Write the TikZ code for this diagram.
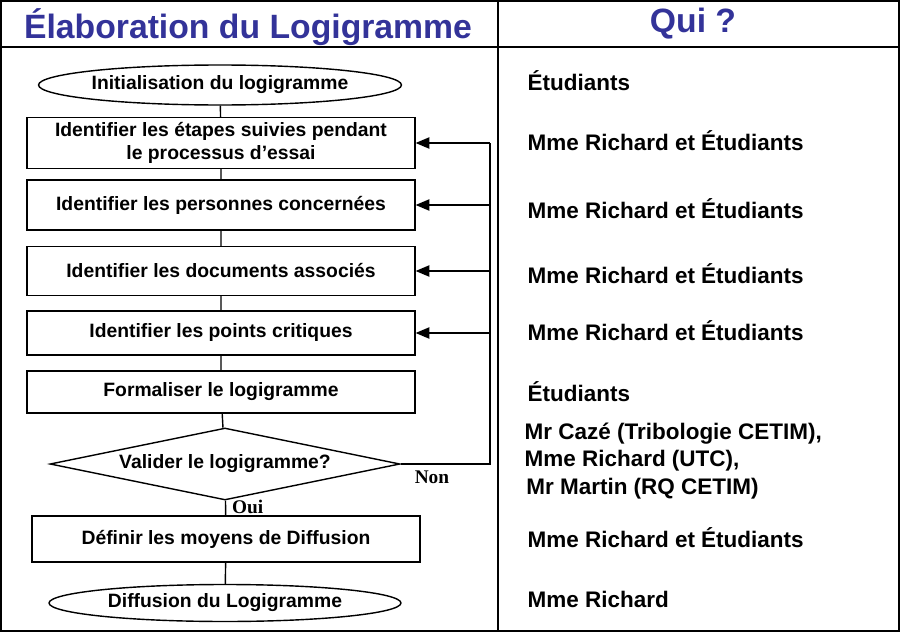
\documentclass[tikz,border=0pt]{standalone}
\usepackage{fontspec}
\setmainfont{Liberation Sans}
\newfontfamily\nonfont{Liberation Serif}
\usetikzlibrary{shapes,calc,positioning,arrows}
\definecolor{titleblue}{RGB}{51,51,153}

\begin{document}
\begin{tikzpicture}[x=0.02cm,y=-0.02cm,>=triangle 45,thick,font=\bfseries\fontsize{11}{13}\selectfont]
    \tikzset{etape/.style={draw,minimum width=7.76cm,inner sep=1pt,align=center},
             debut/.style={draw,ellipse,minimum width=7.04cm,minimum height=0.8cm,inner sep=0pt},
             qui/.style={anchor=west,font=\bfseries\fontsize{12.8}{15}\selectfont,align=left}}
    \useasboundingbox (0,0) rectangle (900,632);
    % cadre
    \draw[line width=1.6pt] (1,1) rectangle (899,631);
    \draw[line width=1.6pt] (1,47) -- (899,47);
    \draw[line width=1.6pt] (498,1) -- (498,631);
    \node[text=titleblue,font=\bfseries\fontsize{19.2}{22}\selectfont] (titre) at (248,27) {Élaboration du Logigramme};
    \node[text=titleblue,font=\bfseries\fontsize{19.2}{22}\selectfont] (qui) at (693,24) {Qui ?};
    %
    \node[debut] (init) at (220,85) {Initialisation du logigramme};
    \node[etape,minimum height=1.02cm] (etapes) at (221,143) {Identifier les étapes suivies pendant\\le processus d’essai};
    \node[etape,minimum height=1cm] (pers) at (221,205) {Identifier les personnes concernées};
    \node[etape,minimum height=0.98cm] (docs) at (221,271) {Identifier les documents associés};
    \node[etape,minimum height=0.88cm] (pts) at (221,333) {Identifier les points critiques};
    \node[etape,minimum height=0.84cm] (form) at (221,392) {Formaliser le logigramme};
    \node[draw,diamond,aspect=4.86,minimum width=7cm,minimum height=1.44cm,inner sep=0pt] (valid) at (225,464) {Valider le logigramme?};
    \node[etape,minimum height=0.92cm] (moyens) at (226,539) {Définir les moyens de Diffusion};
    \node[debut,minimum height=0.74cm] (diff) at (225,603) {Diffusion du Logigramme};
    \coordinate (retour) at (490,464);
    %
    \draw (init) -- (etapes) -- (pers) -- (docs) -- (pts) -- (form) -- (valid);
    \draw (valid) -- node[right,pos=0.4,font=\nonfont\bfseries\fontsize{11}{13}\selectfont]{Oui} (moyens);
    \draw (moyens) -- (diff);
    \draw (valid.east) -- node[below,pos=0.35,font=\nonfont\bfseries\fontsize{11}{13}\selectfont]{Non} (retour) -- (retour |- etapes.east);
    \draw[->] (retour |- etapes.east) -- (etapes.east);
    \draw[->] (retour |- pers.east) -- (pers.east);
    \draw[->] (retour |- docs.east) -- (docs.east);
    \draw[->] (retour |- pts.east) -- (pts.east);
    %
    \node[qui] (q1) at (521,81) {Étudiants};
    \node[qui] (q2) at (521,141) {Mme Richard et Étudiants};
    \node[qui] (q3) at (521,209) {Mme Richard et Étudiants};
    \node[qui] (q4) at (521,274) {Mme Richard et Étudiants};
    \node[qui] (q5) at (521,331) {Mme Richard et Étudiants};
    \node[qui] (q6) at (521,392) {Étudiants};
    \node[qui,font=\bfseries\fontsize{12.8}{15.5}\selectfont] (q7) at (518,461) {Mr Cazé (Tribologie CETIM),\\Mme Richard (UTC),\\\hspace*{1pt}Mr Martin (RQ CETIM)};
    \node[qui] (q8) at (521,538) {Mme Richard et Étudiants};
    \node[qui] (q9) at (521,599) {Mme Richard};
\end{tikzpicture}
\end{document}
